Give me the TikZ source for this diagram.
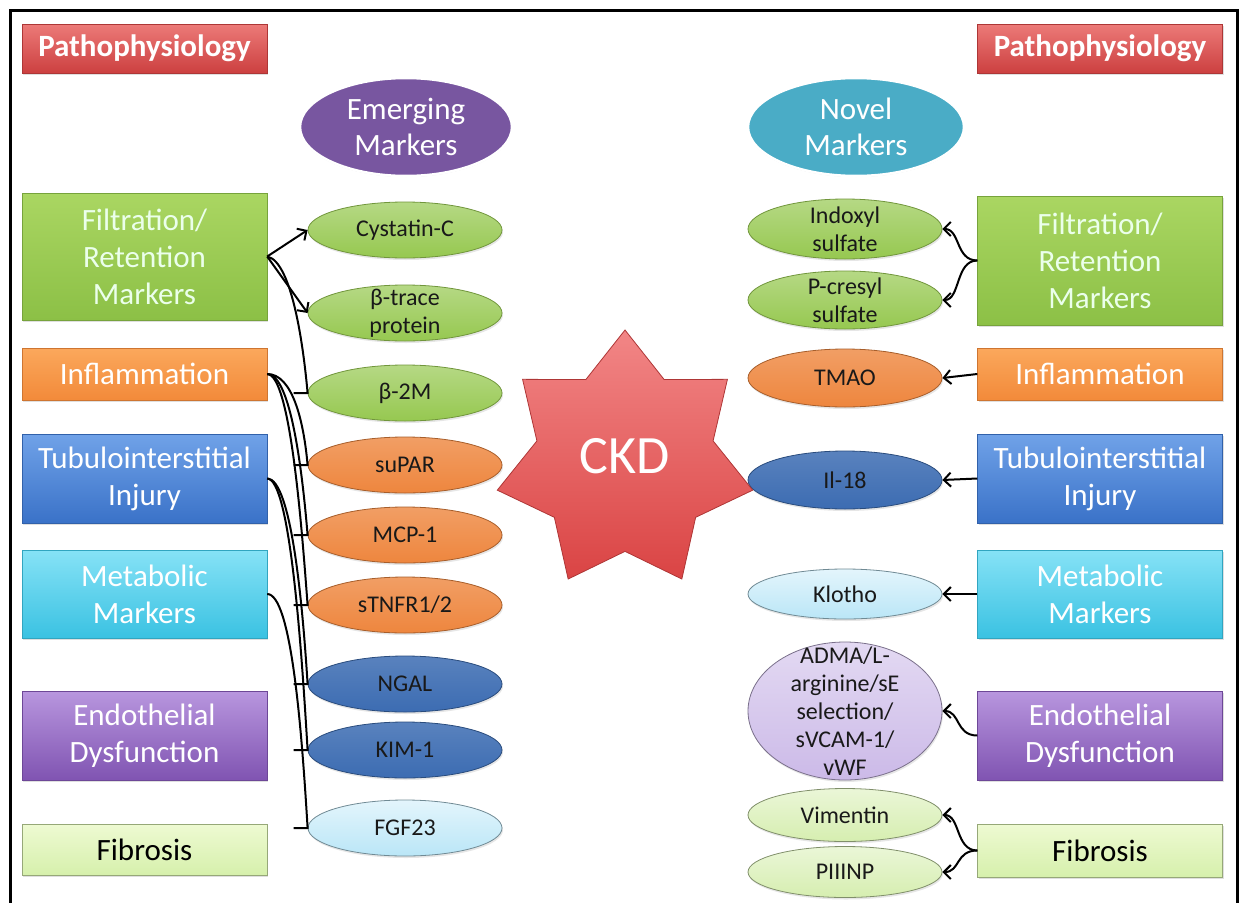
\documentclass[tikz,border=0pt]{standalone}
\usepackage{fontspec}
\setmainfont{Carlito}
\usetikzlibrary{arrows.meta, shapes.geometric, shadows}

% box colours
\definecolor{redtop}{RGB}{236,122,120}
\definecolor{redbot}{RGB}{204,64,64}
\definecolor{greentop}{RGB}{170,214,98}
\definecolor{greenbot}{RGB}{140,192,70}
\definecolor{orangetop}{RGB}{251,168,92}
\definecolor{orangebot}{RGB}{242,138,58}
\definecolor{bluetop}{RGB}{112,162,232}
\definecolor{bluebot}{RGB}{58,114,200}
\definecolor{cyantop}{RGB}{134,226,246}
\definecolor{cyanbot}{RGB}{58,194,226}
\definecolor{purpletop}{RGB}{184,150,222}
\definecolor{purplebot}{RGB}{128,84,178}
\definecolor{fibtop}{RGB}{238,250,210}
\definecolor{fibbot}{RGB}{214,240,172}
% ellipse colours
\definecolor{ellgreen}{RGB}{150,200,80}
\definecolor{ellorange}{RGB}{238,134,62}
\definecolor{ellblue}{RGB}{60,108,178}
\definecolor{elllblue}{RGB}{186,230,247}
\definecolor{elllpurple}{RGB}{204,186,232}
\definecolor{elllgreen}{RGB}{214,238,176}
\definecolor{emerging}{RGB}{120,86,160}
\definecolor{novel}{RGB}{74,172,198}
\definecolor{startop}{RGB}{242,134,134}
\definecolor{starbot}{RGB}{218,68,68}

\begin{document}
\begin{tikzpicture}[
        x=1pt, y=-1pt,
        catbox/.style={rectangle, minimum width=245pt, inner sep=2pt, align=center,
                       text=white, font=\fontsize{31}{37}\selectfont,
                       drop shadow={opacity=0.25, shadow xshift=1pt, shadow yshift=-2pt}},
        redbox/.style={catbox, top color=redtop, bottom color=redbot, draw=redbot!85!black},
        greenbox/.style={catbox, top color=greentop, bottom color=greenbot, draw=greenbot!85!black, text=white!92!green},
        orangebox/.style={catbox, top color=orangetop, bottom color=orangebot, draw=orangebot!85!black},
        bluebox/.style={catbox, top color=bluetop, bottom color=bluebot, draw=bluebot!85!black},
        cyanbox/.style={catbox, top color=cyantop, bottom color=cyanbot, draw=cyanbot!85!black},
        purplebox/.style={catbox, top color=purpletop, bottom color=purplebot, draw=purplebot!85!black},
        fibbox/.style={catbox, top color=fibtop, bottom color=fibbot, draw=fibbot!70!black, text=black},
        biomarker/.style={ellipse, minimum width=194pt, minimum height=56pt, inner sep=0pt,
                          line width=0.8pt, text=black!90, font=\fontsize{24}{28}\selectfont,
                          drop shadow={opacity=0.2, shadow xshift=1pt, shadow yshift=-2pt}},
        mlabel/.style={align=center, inner sep=0pt, text=black!90, font=\fontsize{24}{28}\selectfont},
        greenell/.style={top color=ellgreen!70!white, bottom color=ellgreen, draw=ellgreen!75!black},
        orangeell/.style={top color=ellorange!80!white, bottom color=ellorange, draw=ellorange!70!black},
        blueell/.style={top color=ellblue!85!white, bottom color=ellblue, draw=ellblue!70!black},
        lblueell/.style={top color=elllblue!40!white, bottom color=elllblue, draw=elllblue!60!black},
        lpurpleell/.style={top color=elllpurple!55!white, bottom color=elllpurple, draw=elllpurple!60!black},
        lgreenell/.style={top color=elllgreen!50!white, bottom color=elllgreen, draw=elllgreen!60!black},
        headell/.style={ellipse, minimum width=212pt, minimum height=98pt, inner sep=0pt,
                        draw=white, line width=2.5pt, text=white, align=center,
                        font=\fontsize{31}{36}\selectfont,
                        drop shadow={opacity=0.3, shadow xshift=0pt, shadow yshift=-1pt}},
        ckdstar/.style={star, star points=7, star point ratio=1.45, minimum size=262pt,
                        inner sep=0pt, top color=startop, bottom color=starbot, draw=starbot!80!black,
                        line width=0.8pt},
        link/.style={line width=2pt, black},
        barbed/.style={-{Straight Barb[length=7pt, width=14pt]}}
    ]
        \useasboundingbox (0,0) rectangle (1241,902);
        \draw[line width=3pt] (10,910) -- (10,10) -- (1237,10) -- (1237,910);

        % left column
        \node[redbox, minimum height=49pt] (pathL) at (144.5,48.5) {\textbf{Pathophysiology}};
        \node[greenbox, minimum height=127pt] (filtL) at (144.5,256.5) {Filtration/\\Retention\\Markers};
        \node[orangebox, minimum height=52pt] (inflL) at (144.5,374) {Inflammation};
        \node[bluebox, minimum height=89pt] (tubL) at (144.5,478.5) {Tubulointerstitial\\Injury};
        \node[cyanbox, minimum height=88pt] (metaL) at (144.5,594) {Metabolic\\Markers};
        \node[purplebox, minimum height=89pt] (endoL) at (144.5,735.5) {Endothelial\\Dysfunction};
        \node[fibbox, minimum height=51pt] (fibL) at (144.5,849.5) {Fibrosis};

        % right column
        \node[redbox, minimum height=49pt] (pathR) at (1100,48.5) {\textbf{Pathophysiology}};
        \node[greenbox, minimum height=129pt] (filtR) at (1100,260.5) {Filtration/\\Retention\\Markers};
        \node[orangebox, minimum height=52pt] (inflR) at (1100,374) {Inflammation};
        \node[bluebox, minimum height=89pt] (tubR) at (1100,478.5) {Tubulointerstitial\\Injury};
        \node[cyanbox, minimum height=88pt] (metaR) at (1100,594) {Metabolic\\Markers};
        \node[purplebox, minimum height=89pt] (endoR) at (1100,735.5) {Endothelial\\Dysfunction};
        \node[fibbox, minimum height=53pt] (fibR) at (1100,850.5) {Fibrosis};

        % marker headings
        \node[headell, fill=emerging] (emerg) at (406,127) {Emerging\\Markers};
        \node[headell, fill=novel, minimum width=216pt] (novel) at (856,127) {Novel\\Markers};

        % emerging markers
        \node[biomarker, greenell] (cyst) at (405,230) {Cystatin-C};
        \node[biomarker, greenell, label={[mlabel]center:β-trace\\protein}] (btrace) at (405,313) {};
        \node[biomarker, greenell] (b2m) at (405,393) {β-2M};
        \node[biomarker, orangeell] (supar) at (405,465) {suPAR};
        \node[biomarker, orangeell] (mcp) at (405,535) {MCP-1};
        \node[biomarker, orangeell] (stnfr) at (405,605) {sTNFR1/2};
        \node[biomarker, blueell] (ngal) at (405,684) {NGAL};
        \node[biomarker, blueell] (kim) at (405,750) {KIM-1};
        \node[biomarker, lblueell] (fgf) at (405,828) {FGF23};

        % novel markers
        \node[biomarker, greenell, minimum height=60pt, label={[mlabel]center:Indoxyl\\sulfate}] (indox) at (845,229) {};
        \node[biomarker, greenell, minimum height=58pt, label={[mlabel]center:P-cresyl\\sulfate}] (pcres) at (845,300) {};
        \node[biomarker, orangeell, minimum height=58pt] (tmao) at (845,378) {TMAO};
        \node[biomarker, blueell, minimum height=58pt] (il18) at (845,480) {Il-18};
        \node[biomarker, lblueell, minimum height=50pt] (klotho) at (845,594) {Klotho};
        \node[biomarker, lpurpleell, minimum height=138pt,
              label={[mlabel]center:ADMA/L-\\arginine/sE\\selection/\\sVCAM-1/\\vWF}] (adma) at (845,711) {};
        \node[biomarker, lgreenell, minimum height=53pt] (vim) at (845,815) {Vimentin};
        \node[biomarker, lgreenell, minimum height=51pt] (piiinp) at (845,872) {PIIINP};

        % centre
        \node[ckdstar, label={[text=white, font=\fontsize{54}{60}\selectfont, yshift=5pt]center:CKD}] (ckd) at (625,461) {};

        % left connectors
        \draw[link, barbed] (filtL.east) -- (cyst.west);
        \draw[link, barbed] (filtL.east) -- (btrace.west);
        \draw[link] (filtL.east) .. controls +(25,5) and +(-4,-45) .. (b2m.west) -- ++(-14,0);
        \draw[link] (inflL.east) .. controls +(25,0) and +(-4,-45) .. (supar.west) -- ++(-14,0);
        \draw[link] (inflL.east) .. controls +(24,0) and +(-5,-60) .. (mcp.west) -- ++(-14,0);
        \draw[link] (inflL.east) .. controls +(23,0) and +(-6,-80) .. (stnfr.west) -- ++(-14,0);
        \draw[link] (tubL.east) .. controls +(24,0) and +(-5,-80) .. (ngal.west) -- ++(-14,0);
        \draw[link] (tubL.east) .. controls +(23,0) and +(-6,-100) .. (kim.west) -- ++(-14,0);
        \draw[link] (metaL.east) .. controls +(24,0) and +(-6,-100) .. (fgf.west) -- ++(-14,0);

        % right connectors
        \draw[link, barbed] (filtR.west) .. controls +(-22,0) and +(18,0) .. (indox.east);
        \draw[link, barbed] (filtR.west) .. controls +(-22,0) and +(18,0) .. (pcres.east);
        \draw[link, barbed] (inflR.west) -- (tmao.east);
        \draw[link, barbed] (tubR.west) -- (il18.east);
        \draw[link, barbed] (metaR.west) -- (klotho.east);
        \draw[link, barbed] (endoR.west) .. controls +(-22,0) and +(18,0) .. (adma.east);
        \draw[link, barbed] (fibR.west) .. controls +(-22,0) and +(18,0) .. (vim.east);
        \draw[link, barbed] (fibR.west) .. controls +(-22,0) and +(18,0) .. (piiinp.east);
    \end{tikzpicture}
\end{document}
